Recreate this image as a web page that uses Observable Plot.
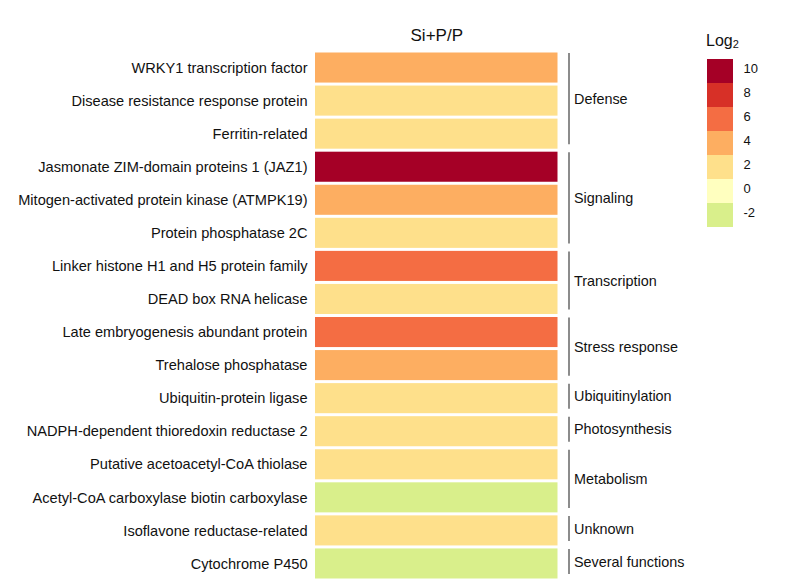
<!DOCTYPE html>
<html>
<head>
<meta charset="utf-8">
<script src="https://cdn.jsdelivr.net/npm/d3@7"></script>
<script src="https://cdn.jsdelivr.net/npm/@observablehq/plot@0.6"></script>
<style>
  html, body { margin: 0; padding: 0; background: #fff; }
  #wrap { position: relative; width: 800px; height: 584px; font-family: "Liberation Sans", Arial, sans-serif; }
  #legend { position: absolute; left: 707px; top: 57px; }
  #legtitle { position: absolute; left: 706px; top: 32px; font-size: 16px; color: #111; }
  #legtitle sub { font-size: 11px; vertical-align: -2px; }
</style>
</head>
<body>
<div id="wrap">
  <div id="main"></div>
  <div id="legtitle">Log<sub>2</sub></div>
  <div id="legend"></div>
</div>
<script>
const genes = [
  "WRKY1 transcription factor",
  "Disease resistance response protein",
  "Ferritin-related",
  "Jasmonate ZIM-domain proteins 1 (JAZ1)",
  "Mitogen-activated protein kinase (ATMPK19)",
  "Protein phosphatase 2C",
  "Linker histone H1 and H5 protein family",
  "DEAD box RNA helicase",
  "Late embryogenesis abundant protein",
  "Trehalose phosphatase",
  "Ubiquitin-protein ligase",
  "NADPH-dependent thioredoxin reductase 2",
  "Putative acetoacetyl-CoA thiolase",
  "Acetyl-CoA carboxylase biotin carboxylase",
  "Isoflavone reductase-related",
  "Cytochrome P450"
];
const log2Values = [4, 2, 2, 10, 4, 2, 6, 2, 6, 4, 2, 2, 2, -2, 2, -2];
const groupNames = ["Defense", "Signaling", "Transcription", "Stress response", "Ubiquitinylation", "Photosynthesis", "Metabolism", "Unknown", "Several functions"];
const groupSizes = [3, 3, 2, 2, 1, 1, 2, 1, 1];
const columnTitle = "Si+P/P";
const legendValues = [10, 8, 6, 4, 2, 0, -2];
const legendColors = ["#a50026", "#d73027", "#f46d43", "#fdae61", "#fee08b", "#ffffbf", "#d9ef8b"];

const rows = genes.map((g, i) => ({gene: g, i, v: log2Values[i]}));
let start = 0;
const groups = groupNames.map((name, k) => {
  const g = {name, s: start, e: start + groupSizes[k]};
  start += groupSizes[k];
  return g;
});

const colorScale = {type: "ordinal", domain: legendValues, range: legendColors};
const font = "Liberation Sans, Arial, sans-serif";

const main = Plot.plot({
  width: 800,
  height: 584,
  marginLeft: 315,
  marginRight: 242.5,
  marginTop: 51,
  marginBottom: 4,
  style: {fontFamily: font, background: "#fff"},
  x: {domain: [0, 1], axis: null},
  y: {domain: [16, 0], axis: null},
  color: colorScale,
  marks: [
    Plot.rect(rows, {x1: 0, x2: 1, y1: d => d.i, y2: d => d.i + 1, fill: d => d.v, insetTop: 1.5, insetBottom: 1.5}),
    Plot.text(rows, {x: 0, y: d => d.i + 0.5, text: d => d.gene, textAnchor: "end", dx: -8, fontSize: 14.6, fill: "#111"}),
    Plot.ruleX(groups, {x: 1, y1: d => d.s, y2: d => d.e, dx: 11, stroke: "#8c8c8c", strokeWidth: 2, insetTop: 2, insetBottom: 6}),
    Plot.text(groups, {x: 1, y: d => (d.s + d.e) / 2, text: d => d.name, textAnchor: "start", dx: 16, dy: -2, fontSize: 14.4, fill: "#111"}),
    Plot.text([columnTitle], {x: 0.5, y: 0, text: d => d, dy: -16, fontSize: 17, fill: "#111"})
  ]
});
document.getElementById("main").appendChild(main);

const legend = Plot.plot({
  width: 70,
  height: 171,
  marginLeft: 0,
  marginRight: 44,
  marginTop: 0,
  marginBottom: 0,
  style: {fontFamily: font, background: "transparent", overflow: "visible"},
  y: {domain: legendValues, padding: 0, axis: null},
  color: colorScale,
  marks: [
    Plot.cell(legendValues, {y: d => d, fill: d => d}),
    Plot.axisY({anchor: "right", tickSize: 0, tickPadding: 10, fontSize: 13, label: null, fill: "#111", dy: -3})
  ]
});
document.getElementById("legend").appendChild(legend);
</script>
</body>
</html>
